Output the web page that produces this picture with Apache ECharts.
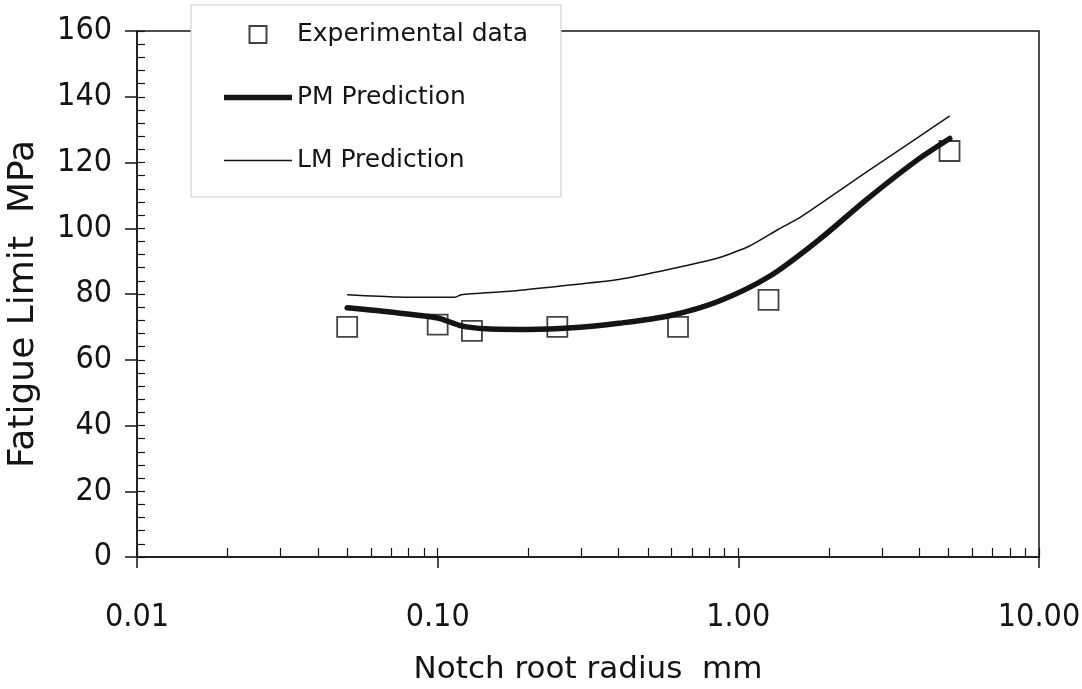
<!DOCTYPE html>
<html>
<head>
<meta charset="utf-8">
<script src="https://cdn.jsdelivr.net/npm/echarts@6/dist/echarts.min.js"></script>
<style>
  html, body { margin: 0; padding: 0; background: #fff; }
  #chart { width: 1082px; height: 689px; }
</style>
</head>
<body>
<div id="chart"></div>
<script>
// measured points
const expX = [0.05, 0.1, 0.13, 0.25, 0.63, 1.26, 5.04];
const expY = [70, 70.7, 68.8, 70, 70, 78.2, 123.5];

const pmX = [0.05, 0.073, 0.1, 0.12, 0.145, 0.2, 0.28, 0.4, 0.59, 0.86, 1.27, 1.86, 2.65, 3.9, 5.05];
const pmY = [75.8, 74.3, 72.7, 70.3, 69.4, 69.2, 69.7, 71.1, 73.4, 77.8, 85.4, 96.6, 108.5, 120.5, 127.3];

const lmX = [0.05, 0.073, 0.114, 0.12, 0.178, 0.28, 0.4, 0.59, 0.86, 1.09, 1.36, 1.6, 2.65, 5.05];
const lmY = [79.8, 79.1, 79.0, 79.8, 80.9, 82.8, 84.4, 87.5, 91, 94.6, 99.7, 103.2, 116.9, 134.2];

const xMin = 0.01;
const xMax = 10;
const yTicks = [0, 20, 40, 60, 80, 100, 120, 140, 160];

// 2..9 in every decade, plus the decades themselves (inner half of the crossing ticks)
const xInnerTicks = [];
for (let d = 0.01; d < 10; d *= 10) {
    for (let k = 1; k < 10; k++) xInnerTicks.push(+(d * k).toPrecision(3));
}
xInnerTicks.push(10);

const ink = '#141414';
const tickFont = '"DejaVu Sans Condensed", "DejaVu Sans", sans-serif';
const textFont = '"DejaVu Sans", sans-serif';

function pairs(xs, ys) {
    return xs.map((x, i) => [x, ys[i]]);
}

const myChart = echarts.init(document.getElementById('chart'));

const option = {
    animation: false,
    backgroundColor: '#fff',
    grid: {
        left: 137,
        right: 43,
        top: 31,
        bottom: 132,
        show: true,
        borderColor: ink,
        borderWidth: 1.5,
        backgroundColor: 'transparent',
        outerBoundsMode: 'none',
    },
    legend: {
        orient: 'vertical',
        left: 191,
        top: 5,
        padding: [17, 33, 24, 33],
        itemWidth: 68,
        itemHeight: 17,
        itemGap: 38,
        selectedMode: false,
        backgroundColor: '#fff',
        borderColor: '#c9c9c9',
        borderWidth: 1,
        textStyle: { fontFamily: textFont, fontSize: 25, color: ink },
        data: [
            { name: 'Experimental data', icon: 'path://M0 0H10V10H0Z' },
            { name: 'PM Prediction', icon: 'path://M0 0H68V5.5H0Z', itemStyle: { borderWidth: 0 } },
            { name: 'LM Prediction', icon: 'path://M0 0H68V1.5H0Z', itemStyle: { borderWidth: 0 } },
        ],
    },
    xAxis: [
        {
            type: 'log',
            logBase: 10,
            min: xMin,
            max: xMax,
            name: 'Notch root radius  mm',
            nameLocation: 'middle',
            nameGap: 97,
            nameTextStyle: { fontFamily: textFont, fontSize: 31, color: ink },
            axisLine: { show: true, lineStyle: { color: ink, width: 1.5 } },
            axisTick: { show: true, inside: false, length: 11, lineStyle: { color: ink, width: 1.5 } },
            axisLabel: {
                margin: 45,
                fontFamily: tickFont,
                fontSize: 32,
                color: ink,
                formatter: (v) => v.toFixed(2),
            },
            splitLine: { show: false },
            minorTick: { show: false },
        },
        {
            type: 'log',
            logBase: 10,
            min: xMin,
            max: xMax,
            position: 'bottom',
            axisLine: { show: false },
            axisTick: {
                show: true,
                inside: true,
                length: 9,
                customValues: xInnerTicks,
                lineStyle: { color: ink, width: 1.2 },
            },
            axisLabel: { show: false },
            splitLine: { show: false },
        },
    ],
    yAxis: [
        {
            type: 'value',
            min: 0,
            max: 160,
            interval: 20,
            name: 'Fatigue Limit  MPa',
            nameLocation: 'middle',
            nameGap: 95,
            nameTextStyle: { fontFamily: textFont, fontSize: 36, color: ink, padding: [0, 20, 0, 0] },
            axisLine: { show: true, lineStyle: { color: ink, width: 1.5 } },
            axisTick: { show: true, inside: false, length: 12, lineStyle: { color: ink, width: 1.5 } },
            axisLabel: {
                margin: 25,
                fontFamily: tickFont,
                fontSize: 32,
                color: ink,
                customValues: yTicks,
            },
            splitLine: { show: false },
        },
        {
            type: 'value',
            min: 0,
            max: 160,
            interval: 20,
            position: 'left',
            axisLine: { show: false },
            axisTick: { show: true, inside: true, length: 8, lineStyle: { color: ink, width: 1.2 } },
            minorTick: { show: true, splitNumber: 5, length: 8, lineStyle: { color: ink, width: 1.2 } },
            axisLabel: { show: false },
            splitLine: { show: false },
        },
    ],
    series: [
        {
            name: 'Experimental data',
            type: 'scatter',
            symbol: 'rect',
            symbolSize: 20,
            data: pairs(expX, expY),
            itemStyle: { color: 'rgba(0,0,0,0)', borderColor: ink, borderWidth: 1.8 },
            z: 4,
        },
        {
            name: 'PM Prediction',
            type: 'line',
            data: pairs(pmX, pmY),
            symbol: 'none',
            smooth: 0.3,
            lineStyle: { color: ink, width: 5.5, cap: 'round' },
            itemStyle: { color: ink, borderWidth: 0 },
            z: 3,
        },
        {
            name: 'LM Prediction',
            type: 'line',
            data: pairs(lmX, lmY),
            symbol: 'none',
            smooth: 0.2,
            lineStyle: { color: ink, width: 1.5 },
            itemStyle: { color: ink, borderWidth: 0 },
            z: 3,
        },
    ],
};

myChart.setOption(option);
</script>
</body>
</html>
